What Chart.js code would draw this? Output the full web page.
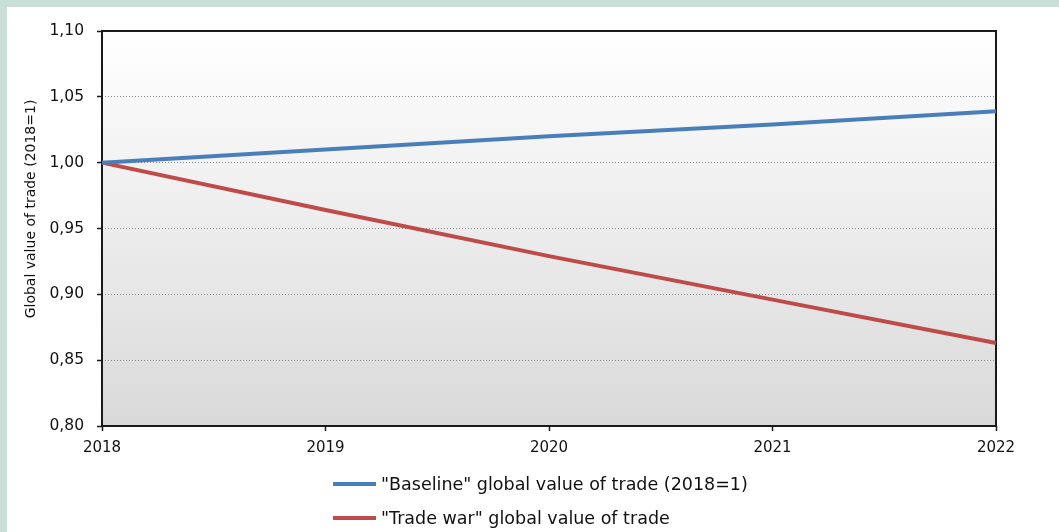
<!DOCTYPE html>
<html>
<head>
<meta charset="utf-8">
<script src="https://cdn.jsdelivr.net/npm/chart.js@4"></script>
<style>
  html, body { margin: 0; padding: 0; }
  body { width: 1059px; height: 532px; background: #c9ded6; position: relative; overflow: hidden; font-family: "DejaVu Sans", Verdana, sans-serif; }
  #panel { position: absolute; left: 7px; top: 7px; right: 0; bottom: 0; background: #ffffff; }
  #wrap { position: absolute; left: 0; top: 0; width: 1059px; height: 532px; }
  #legend { position: absolute; left: 333px; top: 472px; font-size: 17.5px; color: #111; }
  .item { position: relative; height: 34px; width: 600px; }
  .swatch { position: absolute; left: 0; top: 10px; width: 43px; height: 4px; }
  .lbl { position: absolute; left: 48px; top: 0; line-height: 24px; white-space: nowrap; }
</style>
</head>
<body>
<div id="panel"></div>
<div id="wrap"><canvas id="c" width="1059" height="532"></canvas></div>
<div id="legend"></div>
<script>
const categories = ["2018", "2019", "2020", "2021", "2022"];
const baselineValues = [1.000, 1.010, 1.020, 1.029, 1.039];
const tradeWarValues = [1.000, 0.964, 0.929, 0.896, 0.863];
const yTickValues = [0.80, 0.85, 0.90, 0.95, 1.00, 1.05, 1.10];
const yTickLabels = ["0,80", "0,85", "0,90", "0,95", "1,00", "1,05", "1,10"];
const seriesNames = ['"Baseline" global value of trade (2018=1)', '"Trade war" global value of trade'];
const seriesColors = ["#4a7ebb", "#be4b48"];
const yTitle = "Global value of trade (2018=1)";

const FONT = "'DejaVu Sans', Verdana, sans-serif";

const bgPlugin = {
  id: 'plotDecor',
  beforeDraw(chart) {
    const {ctx, chartArea: a} = chart;
    const g = ctx.createLinearGradient(0, a.top, 0, a.bottom);
    g.addColorStop(0, '#ffffff');
    g.addColorStop(1, '#d9d9d9');
    ctx.save();
    ctx.fillStyle = g;
    ctx.fillRect(a.left, a.top, a.right - a.left, a.bottom - a.top);
    ctx.restore();
  },
  beforeDatasetsDraw(chart) {
    const {ctx, chartArea: a} = chart;
    ctx.save();
    ctx.strokeStyle = '#1a1a1a';
    ctx.lineWidth = 2;
    ctx.strokeRect(a.left, a.top, a.right - a.left, a.bottom - a.top);
    ctx.restore();
  },
  afterDraw(chart) {
    const {ctx} = chart;
    ctx.save();
    ctx.translate(31, 209);
    ctx.rotate(-Math.PI / 2);
    ctx.font = "14px " + FONT;
    ctx.fillStyle = '#111';
    ctx.textAlign = 'center';
    ctx.textBaseline = 'middle';
    ctx.fillText(yTitle, 0, 0);
    ctx.restore();
  }
};

new Chart(document.getElementById('c'), {
  type: 'line',
  data: {
    labels: categories,
    datasets: [
      { label: seriesNames[0], data: baselineValues, borderColor: seriesColors[0], backgroundColor: seriesColors[0], borderWidth: 4, pointRadius: 0, tension: 0, fill: false },
      { label: seriesNames[1], data: tradeWarValues, borderColor: seriesColors[1], backgroundColor: seriesColors[1], borderWidth: 4, pointRadius: 0, tension: 0, fill: false }
    ]
  },
  options: {
    responsive: false,
    animation: false,
    layout: { padding: { left: 0, right: 63, top: 31, bottom: 76 } },
    plugins: { legend: { display: false }, tooltip: { enabled: false } },
    scales: {
      x: {
        offset: false,
        border: { display: false },
        grid: { drawOnChartArea: false, drawTicks: true, tickLength: 5, tickColor: '#1a1a1a', tickWidth: 1.5, tickBorderDash: [] },
        ticks: { color: '#111', font: { family: FONT, size: 15 }, padding: 8, maxRotation: 0, autoSkip: false },
        afterFit(s) { s.height = 30; }
      },
      y: {
        min: 0.80, max: 1.10,
        border: { display: false, dash: [1, 2] },
        afterBuildTicks(s) { s.ticks = yTickValues.map(v => ({ value: v })); },
        grid: { color: '#8a8a8a', lineWidth: 1, tickBorderDash: [], tickColor: '#1a1a1a', tickWidth: 1.5, tickLength: 5, drawTicks: true },
        ticks: {
          color: '#111', font: { family: FONT, size: 15.5 }, padding: 13,
          callback(v) { const i = yTickValues.findIndex(t => Math.abs(t - v) < 1e-9); return i >= 0 ? yTickLabels[i] : ''; }
        },
        afterFit(s) { s.width = 102; }
      }
    }
  },
  plugins: [bgPlugin]
});

const leg = document.getElementById('legend');
seriesNames.forEach((n, i) => {
  const d = document.createElement('div'); d.className = 'item';
  const sw = document.createElement('div'); sw.className = 'swatch'; sw.style.background = seriesColors[i];
  const t = document.createElement('span'); t.className = 'lbl'; t.textContent = n;
  d.appendChild(sw); d.appendChild(t); leg.appendChild(d);
});
</script>
</body>
</html>
